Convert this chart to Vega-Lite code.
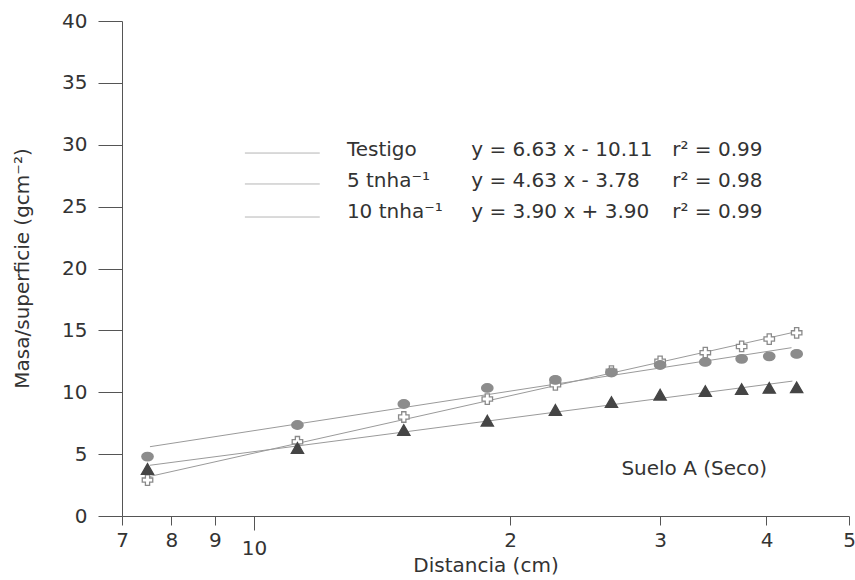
{
  "$schema": "https://vega.github.io/schema/vega-lite/v6.json",
  "autosize": {"type": "none"},
  "padding": {"left": 122, "top": 21, "right": 6, "bottom": 64},
  "width": 727,
  "height": 495,
  "background": "white",
  "config": {
    "view": {"stroke": null},
    "font": "DejaVu Sans",
    "axis": {"labelFont": "DejaVu Sans", "titleFont": "DejaVu Sans", "labelColor": "#333", "titleColor": "#333", "domainColor": "#555", "tickColor": "#555", "grid": false, "titleFontWeight": "normal"}
  },
  "datasets": {
    "points": [
      {"series": "Testigo", "dist": 7.5, "masa": 2.9},
      {"series": "Testigo", "dist": 11.25, "masa": 6.0},
      {"series": "Testigo", "dist": 15, "masa": 8.0},
      {"series": "Testigo", "dist": 18.8, "masa": 9.45},
      {"series": "Testigo", "dist": 22.6, "masa": 10.6},
      {"series": "Testigo", "dist": 26.3, "masa": 11.7},
      {"series": "Testigo", "dist": 30, "masa": 12.5},
      {"series": "Testigo", "dist": 33.9, "masa": 13.2},
      {"series": "Testigo", "dist": 37.4, "masa": 13.7},
      {"series": "Testigo", "dist": 40.3, "masa": 14.3},
      {"series": "Testigo", "dist": 43.4, "masa": 14.8},
      {"series": "5 tnha-1", "dist": 7.5, "masa": 4.8},
      {"series": "5 tnha-1", "dist": 11.25, "masa": 7.35},
      {"series": "5 tnha-1", "dist": 15, "masa": 9.05},
      {"series": "5 tnha-1", "dist": 18.8, "masa": 10.35},
      {"series": "5 tnha-1", "dist": 22.6, "masa": 11.0},
      {"series": "5 tnha-1", "dist": 26.3, "masa": 11.6},
      {"series": "5 tnha-1", "dist": 30, "masa": 12.2},
      {"series": "5 tnha-1", "dist": 33.9, "masa": 12.45},
      {"series": "5 tnha-1", "dist": 37.4, "masa": 12.7},
      {"series": "5 tnha-1", "dist": 40.3, "masa": 12.9},
      {"series": "5 tnha-1", "dist": 43.4, "masa": 13.1},
      {"series": "10 tnha-1", "dist": 7.5, "masa": 3.8},
      {"series": "10 tnha-1", "dist": 11.25, "masa": 5.5},
      {"series": "10 tnha-1", "dist": 15, "masa": 6.95},
      {"series": "10 tnha-1", "dist": 18.8, "masa": 7.7},
      {"series": "10 tnha-1", "dist": 22.6, "masa": 8.57},
      {"series": "10 tnha-1", "dist": 26.3, "masa": 9.2},
      {"series": "10 tnha-1", "dist": 30, "masa": 9.8},
      {"series": "10 tnha-1", "dist": 33.9, "masa": 10.1},
      {"series": "10 tnha-1", "dist": 37.4, "masa": 10.25},
      {"series": "10 tnha-1", "dist": 40.3, "masa": 10.35},
      {"series": "10 tnha-1", "dist": 43.4, "masa": 10.4}
    ],
    "fits": [
      {"series": "Testigo", "dist": 7.55, "masa": 3.2},
      {"series": "Testigo", "dist": 43.4, "masa": 14.9},
      {"series": "5 tnha-1", "dist": 7.55, "masa": 5.6},
      {"series": "5 tnha-1", "dist": 42.8, "masa": 13.6},
      {"series": "10 tnha-1", "dist": 7.55, "masa": 4.1},
      {"series": "10 tnha-1", "dist": 42.9, "masa": 10.9}
    ],
    "legendLines": [
      {"x1": 9.76, "x2": 11.95, "y": 29.33},
      {"x1": 9.76, "x2": 11.95, "y": 26.83},
      {"x1": 9.76, "x2": 11.95, "y": 24.16}
    ],
    "labels": [
      {"x": 12.86, "y": 29.6, "text": "Testigo"},
      {"x": 12.86, "y": 27.1, "text": "5 tnha⁻¹"},
      {"x": 12.86, "y": 24.6, "text": "10 tnha⁻¹"},
      {"x": 18.0, "y": 29.6, "text": "y = 6.63 x - 10.11"},
      {"x": 18.0, "y": 27.1, "text": "y = 4.63 x - 3.78"},
      {"x": 18.0, "y": 24.6, "text": "y = 3.90 x + 3.90"},
      {"x": 31.0, "y": 29.6, "text": "r² = 0.99"},
      {"x": 31.0, "y": 27.1, "text": "r² = 0.98"},
      {"x": 31.0, "y": 24.6, "text": "r² = 0.99"}
    ],
    "note": [
      {"x": 32.9, "y": 3.8, "text": "Suelo A (Seco)"}
    ]
  },
  "layer": [
    {
      "data": {"name": "fits"},
      "mark": {"type": "line", "strokeWidth": 1, "color": "#9a9a9a"},
      "encoding": {
        "x": {"field": "dist", "type": "quantitative", "scale": {"type": "log", "domain": [7, 50], "nice": false},
          "axis": {"title": "Distancia (cm)", "titleFontSize": 20, "titleY": 39, "values": [7, 8, 9, 10, 20, 30, 40, 50],
            "labelExpr": "datum.value >= 20 ? format(datum.value / 10, 'd') : datum.label",
            "labelFontSize": 20, "labelPadding": {"condition": {"test": "datum.value == 10", "value": 8}, "value": 5},
            "tickSize": {"condition": {"test": "datum.value == 10", "value": 14}, "value": 9}, "labelFlush": false}},
        "y": {"field": "masa", "type": "quantitative", "scale": {"domain": [0, 40], "nice": false},
          "axis": {"title": "Masa/superficie (gcm⁻²)", "titleFontSize": 20, "titleX": -90, "titleY": 247,
            "values": [0, 2.5, 5, 7.5, 10, 12.5, 15, 17.5, 20, 22.5, 25, 27.5, 30, 32.5, 35, 37.5, 40],
            "labelExpr": "datum.value % 5 == 0 ? datum.label : ''",
            "labelFontSize": 20, "labelPadding": 11, "labelFlush": false,
            "tickSize": {"condition": {"test": "datum.value % 5 == 0", "value": 24}, "value": 12}}},
        "detail": {"field": "series"}
      }
    },
    {
      "data": {"name": "points"},
      "mark": {"type": "point", "filled": false, "strokeWidth": 1.3, "opacity": 1},
      "encoding": {
        "x": {"field": "dist", "type": "quantitative"},
        "y": {"field": "masa", "type": "quantitative"},
        "shape": {"field": "series", "type": "nominal", "legend": null,
          "scale": {"domain": ["Testigo", "5 tnha-1", "10 tnha-1"], "range": ["cross", "M-1,0A1,0.75 0 1,0 1,0A1,0.75 0 1,0 -1,0Z", "triangle-up"]}},
        "fill": {"field": "series", "type": "nominal", "legend": null,
          "scale": {"domain": ["Testigo", "5 tnha-1", "10 tnha-1"], "range": ["white", "#8c8c8c", "#454545"]}},
        "stroke": {"field": "series", "type": "nominal", "legend": null,
          "scale": {"domain": ["Testigo", "5 tnha-1", "10 tnha-1"], "range": ["#8a8a8a", "#8c8c8c", "#454545"]}},
        "size": {"field": "series", "type": "nominal", "legend": null,
          "scale": {"domain": ["Testigo", "5 tnha-1", "10 tnha-1"], "range": [110, 150, 70]}}
      }
    },
    {
      "data": {"name": "legendLines"},
      "mark": {"type": "rule", "color": "#b5b5b5", "strokeWidth": 1},
      "encoding": {
        "x": {"field": "x1", "type": "quantitative"},
        "x2": {"field": "x2"},
        "y": {"field": "y", "type": "quantitative"}
      }
    },
    {
      "data": {"name": "labels"},
      "mark": {"type": "text", "fontSize": 20, "baseline": "middle", "align": "left", "color": "#333", "font": "DejaVu Sans"},
      "encoding": {
        "x": {"field": "x", "type": "quantitative"},
        "y": {"field": "y", "type": "quantitative"},
        "text": {"field": "text"}
      }
    },
    {
      "data": {"name": "note"},
      "mark": {"type": "text", "fontSize": 20, "baseline": "middle", "align": "center", "color": "#333", "font": "DejaVu Sans"},
      "encoding": {
        "x": {"field": "x", "type": "quantitative"},
        "y": {"field": "y", "type": "quantitative"},
        "text": {"field": "text"}
      }
    }
  ]
}
